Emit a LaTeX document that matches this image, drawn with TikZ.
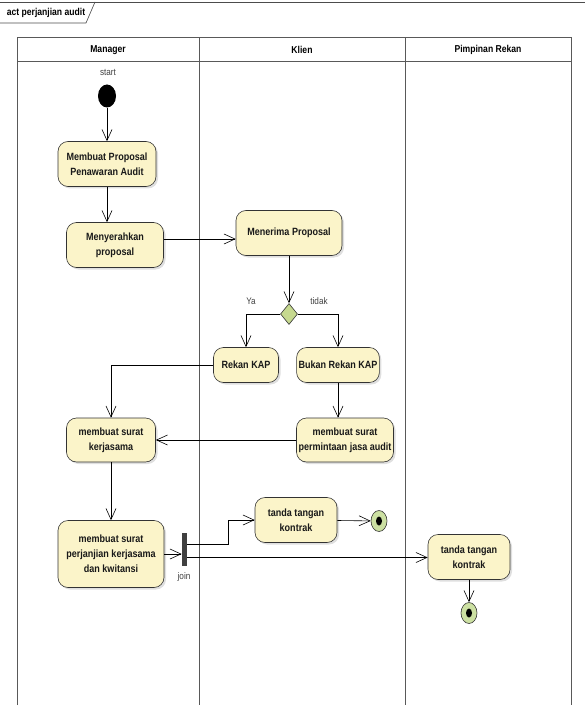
\documentclass[tikz,border=0pt]{standalone}
\usepackage{fontspec}
\setmainfont{Liberation Sans}[FakeStretch=0.86]
\usetikzlibrary{arrows.meta,shapes.geometric,shadows}

\definecolor{actfill}{HTML}{FBF4C9}
\definecolor{decfill}{HTML}{C6D98F}
\definecolor{endfill}{HTML}{CCE0A2}

\begin{document}
\begin{tikzpicture}[x=1pt,y=-1pt,->,>={Straight Barb[length=11pt,width=10pt]},semithick,
    font=\bfseries\fontsize{10.5}{15}\selectfont]

    \tikzstyle{action}=[rectangle,rounded corners=10pt,draw=black!80,fill=actfill,text=black!90,
        align=center,minimum height=45pt,inner sep=2pt,
        drop shadow={shadow xshift=2pt,shadow yshift=-2pt,opacity=.25}]
    \tikzstyle{start}=[ellipse,fill=black,minimum width=18pt,minimum height=23pt,inner sep=0pt]
    \tikzstyle{final}=[ellipse,draw=black!80,fill=endfill,minimum width=16pt,minimum height=21pt,inner sep=0pt,
        path picture={\fill[black] (path picture bounding box.center) ellipse (3pt and 4.5pt);}]
    \tikzstyle{decision}=[diamond,aspect=0.8,draw=black!80,fill=decfill,minimum width=17pt,minimum height=21pt,inner sep=0pt]
    \tikzstyle{bar}=[rectangle,fill=black!75,minimum width=5pt,minimum height=33pt,inner sep=0pt]
    \tikzstyle{lbl}=[font=\fontsize{9.5}{10}\selectfont,text=black!75]
    \tikzstyle{lanehead}=[font=\bfseries\fontsize{10}{11}\selectfont]
    \tikzstyle{lane}=[-,draw=black!65,line width=1pt]

    \useasboundingbox (0,0) rectangle (585,711);

    % frame and swimlanes
    \draw[-,draw=black!70] (0,2) -- (585,2);
    \draw[-,draw=black!70] (0,23) -- (86,23) -- (95,2);
    \node[lanehead] (title) at (46,13) {act perjanjian audit};

    \draw[lane] (17,705) -- (17,38) -- (571,38) -- (571,705);
    \draw[lane] (17,62) -- (571,62);
    \draw[lane] (199,38) -- (199,705);
    \draw[lane] (405,38) -- (405,705);
    \node[lanehead] (hmanager) at (108,50) {Manager};
    \node[lanehead] (hklien)   at (302,50) {Klien};
    \node[lanehead] (hrekan)   at (488,50) {Pimpinan Rekan};

    % activities
    \node[lbl]   (startlbl) at (108,72) {start};
    \node[start] (start)    at (107,96) {};
    \node[action,minimum width=98pt]  (proposal) at (107,164) {Membuat Proposal\\Penawaran Audit};
    \node[action,minimum width=97pt]  (serah)    at (115,245) {Menyerahkan\\proposal};
    \node[action,minimum width=106pt] (terima)   at (289,233) {Menerima Proposal};
    \node[decision] (dec) at (289,314) {};
    \node[lbl] (ya)    at (251,301) {Ya};
    \node[lbl] (tidak) at (319,301) {tidak};
    \node[action,minimum width=65pt,minimum height=35pt] (rekan) at (246,365) {Rekan KAP};
    \node[action,minimum width=81pt,minimum height=35pt] (bukan) at (338,365) {Bukan Rekan KAP};
    \node[action,minimum width=89pt,minimum height=44pt] (kerja) at (111,440) {membuat surat\\kerjasama};
    \node[action,minimum width=97pt,minimum height=44pt] (minta) at (345,440) {membuat surat\\permintaan jasa audit};
    \node[action,minimum width=106pt,minimum height=67pt] (janji) at (111,554) {membuat surat\\perjanjian kerjasama\\dan kwitansi};
    \node[bar] (join) at (184.5,549.5) {};
    \node[lbl] (joinlbl) at (184,577) {join};
    \node[action,minimum width=82pt] (ttklien) at (296,520) {tanda tangan\\kontrak};
    \node[final] (endklien) at (379,521) {};
    \node[action,minimum width=82pt] (ttrekan) at (469,557) {tanda tangan\\kontrak};
    \node[final] (endrekan) at (469,613) {};

    % flows
    \path (start) edge (proposal)
          (proposal) edge (serah.north -| proposal)
          (terima) edge (dec)
          (minta) edge (kerja)
          (kerja) edge (janji)
          (ttklien) edge (endklien)
          (ttrekan) edge (endrekan)
    ;
    \draw ([yshift=6pt]serah.east) -- ([yshift=6pt]serah.east -| terima.west);
    \draw (dec.west) -| (rekan.north);
    \draw (dec.east) -| (bukan.north);
    \draw (rekan.west) -| (kerja.north);
    \draw (bukan) -- (bukan |- minta.north);
    \draw (janji.east) -- (janji.east -| join.west);
    \draw ([yshift=5pt]join.east) -- ++(41,0) |- (ttklien.west);
    \draw ([yshift=-8pt]join.east) -- ([yshift=-8pt]join.east -| ttrekan.west);
\end{tikzpicture}
\end{document}
